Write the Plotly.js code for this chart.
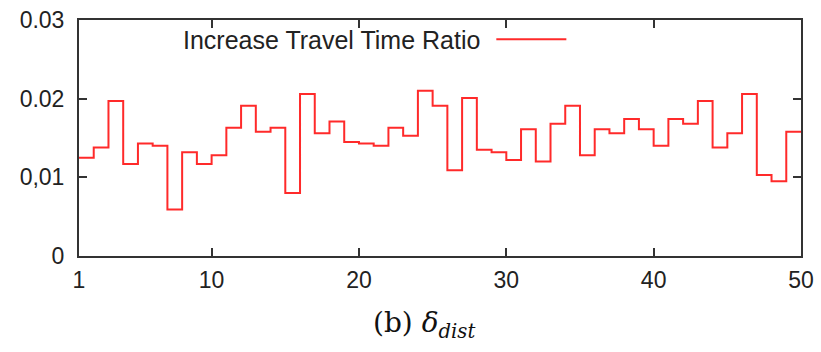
<!DOCTYPE html>
<html>
<head>
<meta charset="utf-8">
<script src="https://cdn.plot.ly/plotly-3.0.1.min.js"></script>
<style>
html,body{margin:0;padding:0;background:#fff;}
#chart{width:821px;height:352px;}
</style>
</head>
<body>
<div id="chart"></div>
<script>
// bin index (step i spans [i, i+1])
const bins = [1,2,3,4,5,6,7,8,9,10,11,12,13,14,15,16,17,18,19,20,21,22,23,24,25,26,27,28,29,30,31,32,33,34,35,36,37,38,39,40,41,42,43,44,45,46,47,48,49,50];
const ratio = [0.0125,0.0138,0.0197,0.0117,0.0143,0.0140,0.0059,0.0132,0.0117,0.0128,
               0.0163,0.0191,0.0158,0.0163,0.0080,0.0206,0.0156,0.0171,0.0145,0.0143,
               0.0140,0.0163,0.0153,0.0210,0.0191,0.0109,0.0201,0.0135,0.0132,0.0122,
               0.0161,0.0120,0.0168,0.0191,0.0128,0.0161,0.0156,0.0174,0.0161,0.0140,
               0.0174,0.0168,0.0197,0.0138,0.0156,0.0206,0.0103,0.0095,0.0158,0.0158];
const seriesName = "Increase Travel Time Ratio";
const xTickVals = [1,10,20,30,40,50];
const xTickText = ["1","10","20","30","40","50"];
const yTickVals = [0,0.01,0.02,0.03];
const yTickText = ["0","0,01","0.02","0.03"];
const caption = "(b) <i>δ</i><sub><i>dist</i></sub>";

const trace = {
  x: bins, y: ratio, name: seriesName,
  type: 'scatter', mode: 'lines',
  line: {shape: 'hv', color: '#ff2a2a', width: 2},
  hoverinfo: 'skip'
};

const axisCommon = {
  showline: true, linecolor: '#333', linewidth: 2, mirror: 'ticks',
  ticks: 'inside', ticklen: 8, tickwidth: 2, tickcolor: '#333',
  showgrid: false, zeroline: false,
  tickfont: {family: 'Liberation Sans, Arial, sans-serif', size: 23, color: '#222'}
};

const layout = {
  width: 821, height: 352,
  margin: {l: 79, r: 20, t: 20, b: 96},
  paper_bgcolor: '#fff', plot_bgcolor: '#fff',
  showlegend: false,
  xaxis: Object.assign({}, axisCommon, {
    range: [1, 50], tickmode: 'array', tickvals: xTickVals, ticktext: xTickText,
    ticklabelstandoff: 2
  }),
  yaxis: Object.assign({}, axisCommon, {
    range: [0, 0.03], tickmode: 'array', tickvals: yTickVals, ticktext: yTickText,
    ticklabelstandoff: 8
  }),
  annotations: [
    {text: seriesName, xref: 'paper', yref: 'paper', x: 0.558, y: 0.915,
     xanchor: 'right', yanchor: 'middle', showarrow: false,
     font: {family: 'Liberation Sans, Arial, sans-serif', size: 25, color: '#222'}},
    {text: caption, xref: 'paper', yref: 'paper', x: 0.478, y: -0.29,
     xanchor: 'center', yanchor: 'middle', showarrow: false,
     font: {family: 'DejaVu Serif, Liberation Serif, serif', size: 28, color: '#111'}}
  ],
  shapes: [
    {type: 'line', xref: 'paper', yref: 'paper', x0: 0.578, x1: 0.675, y0: 0.918, y1: 0.918,
     line: {color: '#ff2a2a', width: 2}}
  ]
};

Plotly.newPlot('chart', [trace], layout, {displayModeBar: false, staticPlot: true});
</script>
</body>
</html>
